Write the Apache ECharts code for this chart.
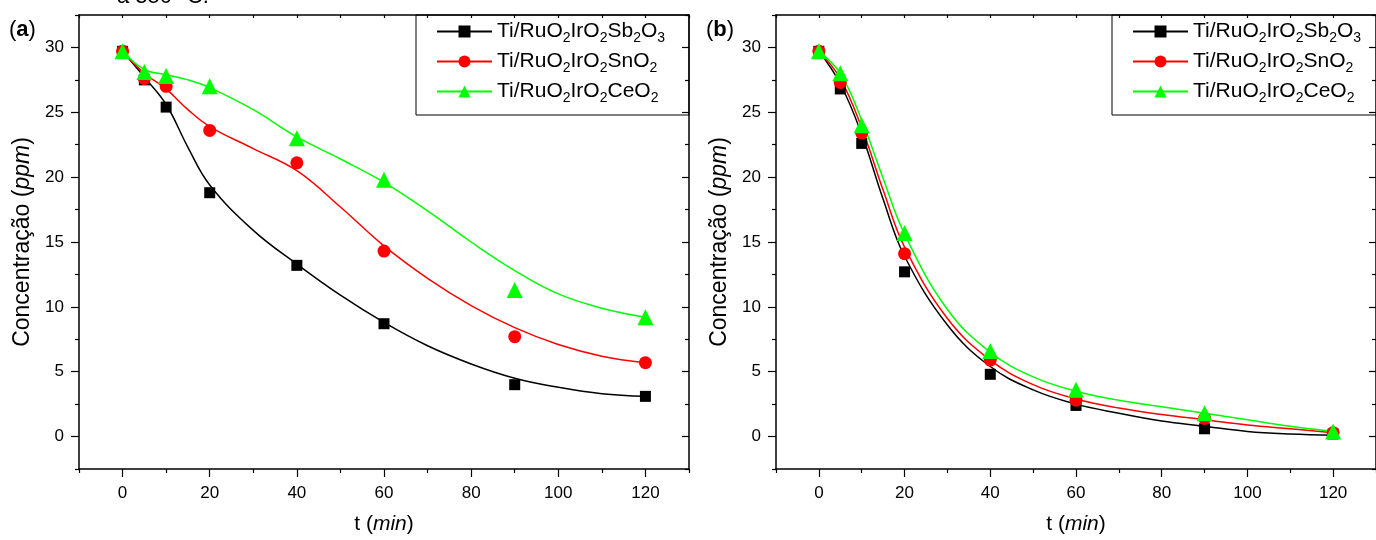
<!DOCTYPE html>
<html>
<head>
<meta charset="utf-8">
<script src="https://cdn.jsdelivr.net/npm/echarts@6/dist/echarts.min.js"></script>
<style>
  html, body { margin: 0; background: #fff; }
  #chart { width: 1376px; height: 540px; }
</style>
</head>
<body>
<div id="chart"></div>
<script>
// legend names (digits become subscripts)
const seriesNames = ['Ti/RuO2IrO2Sb2O3', 'Ti/RuO2IrO2SnO2', 'Ti/RuO2IrO2CeO2'];
const colors = ['#000000', '#ff0000', '#00ff00'];
const symbols = ['rect', 'circle', 'triangle'];
const symbolSizes = [11, 13, 16];

// measured times (min)
const tPoints = [0, 5, 10, 20, 40, 60, 90, 120];
// (a) measured concentrations (ppm)
const aSb = [29.7, 27.5, 25.4, 18.8, 13.2, 8.7, 4.0, 3.1];
const aSn = [29.7, 27.6, 27.0, 23.6, 21.1, 14.3, 7.7, 5.7];
const aCe = [29.7, 28.1, 27.8, 27.0, 23.0, 19.8, 11.3, 9.2];
// (b) measured concentrations (ppm)
const bSb = [29.7, 26.8, 22.6, 12.7, 4.8, 2.4, 0.6, 0.2];
const bSn = [29.7, 27.3, 23.4, 14.1, 5.9, 2.8, 1.4, 0.3];
const bCe = [29.7, 28.0, 24.0, 15.7, 6.6, 3.6, 1.8, 0.4];

// fitted curves
const tCurve = [0, 5, 10, 15, 20, 30, 40, 50, 60, 70, 80, 90, 100, 110, 120];
const aSbFit = [29.7, 27.7, 25.6, 22.3, 19.4, 15.9, 13.3, 10.9, 8.8, 7.0, 5.6, 4.5, 3.8, 3.3, 3.1];
const aSnFit = [29.7, 28.0, 26.8, 25.2, 23.9, 22.2, 20.5, 17.7, 14.7, 12.2, 10.1, 8.4, 7.1, 6.2, 5.7];
const aCeFit = [29.7, 28.3, 27.9, 27.5, 26.9, 25.2, 23.1, 21.4, 19.6, 17.4, 15.0, 12.8, 11.0, 9.9, 9.2];
const bSbFit = [29.7, 27.2, 23.3, 18.3, 13.9, 8.6, 5.4, 3.6, 2.5, 1.8, 1.2, 0.8, 0.4, 0.2, 0.1];
const bSnFit = [29.7, 27.6, 23.8, 19.0, 14.6, 9.1, 5.9, 4.0, 2.9, 2.2, 1.7, 1.3, 0.9, 0.6, 0.3];
const bCeFit = [29.7, 28.0, 24.4, 19.9, 15.6, 9.8, 6.5, 4.6, 3.5, 2.8, 2.3, 1.8, 1.3, 0.8, 0.4];

// axis ticks
const xMajor = [0, 20, 40, 60, 80, 100, 120];
const xMinor = [-10, 10, 30, 50, 70, 90, 110, 130];
const xAll = [-10, 0, 10, 20, 30, 40, 50, 60, 70, 80, 90, 100, 110, 120, 130];
const yMajor = [0, 5, 10, 15, 20, 25, 30];
const yMinor = [-2.5, 2.5, 7.5, 12.5, 17.5, 22.5, 27.5, 32.5];

const panels = [
  { tag: 'a', left: 79, width: 610, pts: [aSb, aSn, aCe], fit: [aSbFit, aSnFit, aCeFit] },
  { tag: 'b', left: 776, width: 607, pts: [bSb, bSn, bCe], fit: [bSbFit, bSnFit, bCeFit] }
];

const FONT = '"Liberation Sans", Arial, sans-serif';
const lineCol = '#000';

function pair(ts, vs) {
  return ts.map((t, i) => [t, vs[i]]);
}

function xAxisOf(gi, pos, ticks, len, inside, label, showLine) {
  return {
    type: 'value', gridIndex: gi, position: pos, min: -10, max: 130,
    splitLine: { show: false },
    axisLine: { show: showLine, onZero: false, lineStyle: { color: lineCol, width: 1.5 } },
    axisTick: { show: true, inside: inside, length: len, customValues: ticks,
      lineStyle: { color: lineCol, width: 1.2 } },
    axisLabel: label
      ? { show: true, customValues: xMajor, margin: 16, color: '#000', fontSize: 17, fontFamily: FONT }
      : { show: false }
  };
}

function yAxisOf(gi, pos, ticks, len, inside, label, showLine) {
  return {
    type: 'value', gridIndex: gi, position: pos, min: -2.5, max: 32.5,
    splitLine: { show: false },
    axisLine: { show: showLine, onZero: false, lineStyle: { color: lineCol, width: 1.5 } },
    axisTick: { show: true, inside: inside, length: len, customValues: ticks,
      lineStyle: { color: lineCol, width: 1.2 } },
    axisLabel: label
      ? { show: true, customValues: yMajor, margin: 15, color: '#000', fontSize: 17, fontFamily: FONT }
      : { show: false }
  };
}

const grids = [], xAxes = [], yAxes = [], series = [], legends = [], graphics = [];

panels.forEach((p, gi) => {
  grids.push({ left: p.left, top: 15, width: p.width, height: 458 });
  const xi = xAxes.length, yi = yAxes.length;
  const xMain = xAxisOf(gi, 'bottom', xMajor, 8, false, true, true);
  xMain.name = 't ({i|min})';
  xMain.nameLocation = 'middle';
  xMain.nameGap = 45;
  xMain.nameTextStyle = { color: '#000', fontSize: 21, fontFamily: FONT,
    rich: { i: { fontStyle: 'italic', fontSize: 21, fontFamily: FONT, color: '#000' } } };
  xAxes.push(xMain);
  xAxes.push(xAxisOf(gi, 'bottom', xMinor, 4, false, false, false));
  xAxes.push(xAxisOf(gi, 'top', xAll, 3, true, false, true));

  const yMain = yAxisOf(gi, 'left', yMajor, 8, false, true, true);
  yMain.name = 'Concentração ({i|ppm})';
  yMain.nameLocation = 'middle';
  yMain.nameGap = 45;
  yMain.nameTextStyle = { color: '#000', fontSize: 23, fontFamily: FONT,
    rich: { i: { fontStyle: 'italic', fontSize: 23, fontFamily: FONT, color: '#000' } } };
  yAxes.push(yMain);
  yAxes.push(yAxisOf(gi, 'left', yMinor, 4, false, false, false));
  yAxes.push(yAxisOf(gi, 'right', yMajor, 7, true, false, true));
  yAxes.push(yAxisOf(gi, 'right', yMinor, 4, true, false, false));

  // fitted curves first (legend icon comes from these)
  seriesNames.forEach((name, k) => {
    series.push({
      type: 'line', name: name, xAxisIndex: xi, yAxisIndex: yi,
      data: pair(tCurve, p.fit[k]), smooth: 0.4, showSymbol: false,
      symbol: symbols[k], symbolSize: symbolSizes[k],
      itemStyle: { color: colors[k] },
      lineStyle: { color: colors[k], width: 1.5 },
      z: 2, silent: true, animation: false
    });
  });
  seriesNames.forEach((name, k) => {
    series.push({
      type: 'scatter', name: name, xAxisIndex: xi, yAxisIndex: yi,
      data: pair(tPoints, p.pts[k]),
      symbol: symbols[k], symbolSize: symbolSizes[k],
      itemStyle: { color: colors[k], opacity: 1 },
      z: 3 + k, animation: false
    });
  });

  const boxLeft = p.left + (gi === 0 ? 337 : 336);
  graphics.push({
    type: 'rect', silent: true, z: 10,
    shape: { x: boxLeft, y: 15, width: p.left + p.width - boxLeft, height: 100 },
    style: { fill: 'none', stroke: '#000', lineWidth: 1 }
  });
  [35, 65, 95].forEach((cy, k) => {
    legends.push({
      data: [seriesNames[k]], left: boxLeft + 20, top: cy - 14, padding: 0,
      itemWidth: 55, itemHeight: 15, selectedMode: false, z: 11,
      formatter: n => '{t|' + n.replace(/(\d)/g, '}{s|$1}{t|') + '}',
      textStyle: {
        color: '#000', fontFamily: FONT,
        rich: {
          t: { fontSize: 21, lineHeight: 28, fontFamily: FONT, color: '#000', verticalAlign: 'middle' },
          s: { fontSize: 14, lineHeight: 28, fontFamily: FONT, color: '#000', verticalAlign: 'bottom' }
        }
      }
    });
  });

  graphics.push({
    type: 'text', left: p.left - 70, top: 19, z: 10,
    style: { text: '({b|' + p.tag + '})', fontSize: 22, fontFamily: FONT, fill: '#000',
      rich: { b: { fontWeight: 'bold', fontSize: 22, fontFamily: FONT } } }
  });
});

// caption cut off by the top edge
graphics.push({
  type: 'text', left: 117, top: -14, z: 10,
  style: { text: 'a 350 °C.', fontSize: 22, fontFamily: FONT, fill: '#000' }
});

const chart = echarts.init(document.getElementById('chart'));
chart.setOption({
  backgroundColor: '#fff',
  animation: false,
  grid: grids,
  xAxis: xAxes,
  yAxis: yAxes,
  legend: legends,
  graphic: graphics,
  series: series
});
</script>
</body>
</html>
